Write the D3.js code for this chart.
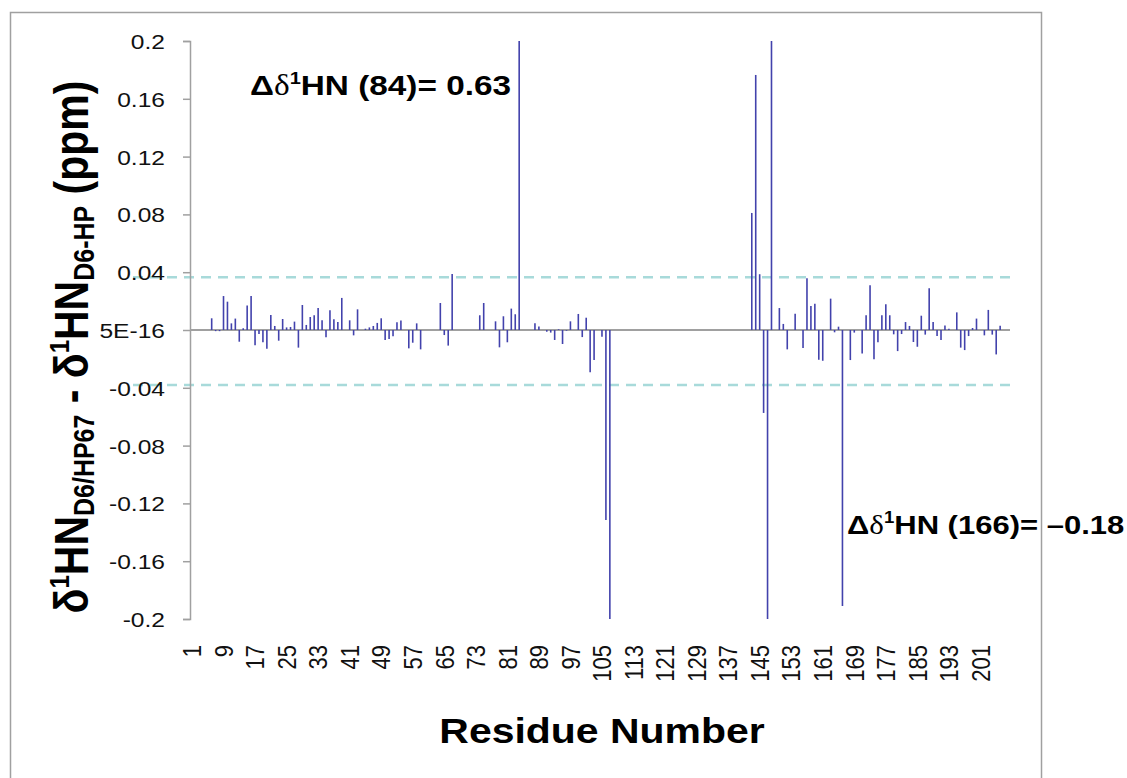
<!DOCTYPE html>
<html>
<head>
<meta charset="utf-8">
<script src="https://cdn.jsdelivr.net/npm/d3@7"></script>
<style>
  body { margin: 0; background: #fff; }
  text { font-family: "Liberation Sans", Arial, sans-serif; }
</style>
</head>
<body>
<div id="chart"></div>
<script>
// residue numbers 1..208
var residues = d3.range(1, 209);

// chemical shift difference per residue (ppm)
var shifts = [
  0, 0, 0, 0, 0, 0.0081, -0.0008, -0.0008, 0.0235, 0.0196,
  0.0046, 0.0079, -0.0081, 0.0012, 0.0169, 0.0235, -0.0106, -0.0028, -0.0085, -0.0129,
  0.0104, 0.0028, -0.0074, 0.0076, 0.0018, 0.0021, 0.0058, -0.0122, 0.0173, 0.0035,
  0.009, 0.0102, 0.0152, 0.0067, -0.0051, 0.0136, 0.0074, 0.0055, 0.0222, 0,
  0.0067, -0.0037, 0.0143, 0, 0.0009, 0.0018, 0.0028, 0.0049, 0.0081, -0.0069,
  -0.0062, -0.0044, 0.0053, 0.0065, 0, -0.0127, -0.0088, 0.0046, -0.0134, 0,
  0, 0, 0, 0.0187, -0.0035, -0.0108, 0.0388, 0, 0, 0,
  0, 0, 0, 0.0102, 0.0187, 0, 0, 0.006, -0.012, 0.0095,
  -0.0085, 0.0148, 0.0109, 0.63, 0, 0, 0, 0.0046, 0.0025, 0,
  -0.0012, -0.0018, -0.0069, 0.0005, -0.0097, -0.0005, 0.006, 0, 0.0111, -0.0049,
  0.0085, -0.0293, -0.0208, 0, -0.0046, -0.1315, -0.21, 0, 0, 0,
  0, 0, 0, 0, 0, 0, 0, 0, 0, 0,
  0, 0, 0, 0, 0, 0, 0, 0, 0, 0,
  0, 0, 0, 0, 0, 0, 0, 0, 0, 0,
  0, 0, 0.081, 0.1765, 0.0386, -0.0574, -0.22, 0.23, 0, 0.0152,
  0.0042, -0.0134, 0, 0.0113, 0, -0.0125, 0.0358, 0.0166, 0.0182, -0.0206,
  -0.0213, 0, 0.0217, -0.0016, 0.0023, -0.191, 0, -0.0208, -0.0018, 0,
  -0.0162, 0.0102, 0.031, -0.0203, -0.0085, 0.0102, 0.0178, 0.0102, -0.003, -0.0146,
  -0.0028, 0.0055, 0.0028, -0.0083, -0.0116, 0.0099, -0.0032, 0.0289, 0.0055, -0.0042,
  -0.0069, 0.0032, 0.0009, 0, 0.0122, -0.0122, -0.0139, -0.0042, 0.0014, 0.0079,
  0, -0.0037, 0.0139, -0.0032, -0.0169, 0.003, 0, 0
];

var xTickLabels = [1, 9, 17, 25, 33, 41, 49, 57, 65, 73, 81, 89, 97, 105, 113, 121, 129, 137, 145, 153, 161, 169, 177, 185, 193, 201];
var yTicks = [-0.2, -0.16, -0.12, -0.08, -0.04, 0, 0.04, 0.08, 0.12, 0.16, 0.2];
var yTickLabels = ["-0.2", "-0.16", "-0.12", "-0.08", "-0.04", "5E-16", "0.04", "0.08", "0.12", "0.16", "0.2"];
// threshold lines (dashed)
var thresholds = [0.0365, -0.038];

var W = 1127, H = 778;
var sx = 1.17; // the figure is stretched horizontally

var svg = d3.select("#chart")
    .append("svg")
    .attr("width", W)
    .attr("height", H);

svg.append("rect")
    .attr("x", 10.5).attr("y", 12.5)
    .attr("width", 1031).attr("height", 800)
    .attr("fill", "#fff")
    .attr("stroke", "#a0a0a0")
    .attr("stroke-width", 1.5);

var x = d3.scaleBand()
    .domain(residues)
    .range([190, 1010]);

var y = d3.scaleLinear()
    .domain([-0.2, 0.2])
    .range([619, 41]);

// dashed threshold lines
svg.selectAll(".thr")
    .data(thresholds)
    .enter().append("line")
    .attr("x1", 133).attr("x2", 1015)
    .attr("y1", function(d) { return y(d); })
    .attr("y2", function(d) { return y(d); })
    .attr("stroke", "#a8dada")
    .attr("stroke-width", 2.5)
    .attr("stroke-dasharray", "10,7");

// y axis
var yAxis = svg.append("g")
    .attr("transform", "translate(190,0)")
    .call(d3.axisLeft(y)
        .tickValues(yTicks)
        .tickSize(7)
        .tickFormat(function(d, i) { return yTickLabels[i]; }));

yAxis.select(".domain").attr("stroke", "#a0a0a0").attr("stroke-width", 1.5);
yAxis.selectAll(".tick line").attr("stroke", "#a0a0a0").attr("stroke-width", 1.5);
yAxis.selectAll(".tick text")
    .attr("x", -25 / sx)
    .attr("dy", "0.36em")
    .attr("transform", "scale(" + sx + ",1)")
    .attr("font-size", 21)
    .attr("font-family", "Liberation Sans, Arial, sans-serif")
    .attr("fill", "#111");

// zero line
svg.append("line")
    .attr("x1", 190).attr("x2", 1010)
    .attr("y1", y(0)).attr("y2", y(0))
    .attr("stroke", "#a0a0a0")
    .attr("stroke-width", 2);

// bars
svg.selectAll(".bar")
    .data(residues)
    .enter().append("line")
    .attr("class", "bar")
    .attr("x1", function(d) { return x(d) + x.bandwidth() / 2; })
    .attr("x2", function(d) { return x(d) + x.bandwidth() / 2; })
    .attr("y1", y(0))
    .attr("y2", function(d, i) { return y(Math.max(-0.2, Math.min(0.2, shifts[i]))); })
    .attr("stroke", "#4242ac")
    .attr("stroke-width", 1.6);

// x axis labels
var xAxis = svg.append("g")
    .attr("transform", "translate(0,645)")
    .call(d3.axisBottom(x).tickValues(xTickLabels).tickSize(0));

xAxis.select(".domain").remove();
xAxis.selectAll(".tick text")
    .attr("x", 0)
    .attr("y", 0)
    .attr("dy", "0.36em")
    .attr("text-anchor", "end")
    .attr("transform", "rotate(-90) scale(1," + sx + ")")
    .attr("font-size", 22)
    .attr("font-family", "Liberation Sans, Arial, sans-serif")
    .attr("fill", "#111");

// x title
svg.append("text")
    .attr("transform", "translate(602,743) scale(" + sx + ",1)")
    .attr("text-anchor", "middle")
    .attr("font-size", 35)
    .attr("font-weight", "bold")
    .text("Residue Number");

// y title
var yt = svg.append("text")
    .attr("transform", "translate(88,347) rotate(-90) scale(1," + sx + ")")
    .attr("text-anchor", "middle")
    .attr("font-size", 41)
    .attr("font-weight", "bold");
yt.append("tspan").text("δ");
yt.append("tspan").attr("font-size", 24).attr("dy", -16).text("1");
yt.append("tspan").attr("dy", 16).text("HN");
yt.append("tspan").attr("font-size", 25).attr("dy", 5).text("D6/HP67");
yt.append("tspan").attr("dy", -5).text(" - δ");
yt.append("tspan").attr("font-size", 24).attr("dy", -16).text("1");
yt.append("tspan").attr("dy", 16).text("HN");
yt.append("tspan").attr("font-size", 25).attr("dy", 5).text("D6-HP");
yt.append("tspan").attr("dy", -5).text(" (ppm)");

// annotations
function note(px, py, fs, label, val) {
  var t = svg.append("text")
      .attr("transform", "translate(" + px + "," + py + ") scale(" + sx + ",1)")
      .attr("font-size", fs)
      .attr("font-weight", "bold");
  t.append("tspan").text("Δ");
  t.append("tspan").attr("font-family", "Liberation Serif, serif").attr("font-weight", "normal").text("δ");
  t.append("tspan").attr("font-size", fs * 0.6).attr("dy", -fs * 0.4).text("1");
  t.append("tspan").attr("dy", fs * 0.4).text("HN (" + label + ")= " + val);
}
note(250, 95, 28.5, "84", "0.63");
note(847, 534, 26.5, "166", "–0.18");
</script>
</body>
</html>
